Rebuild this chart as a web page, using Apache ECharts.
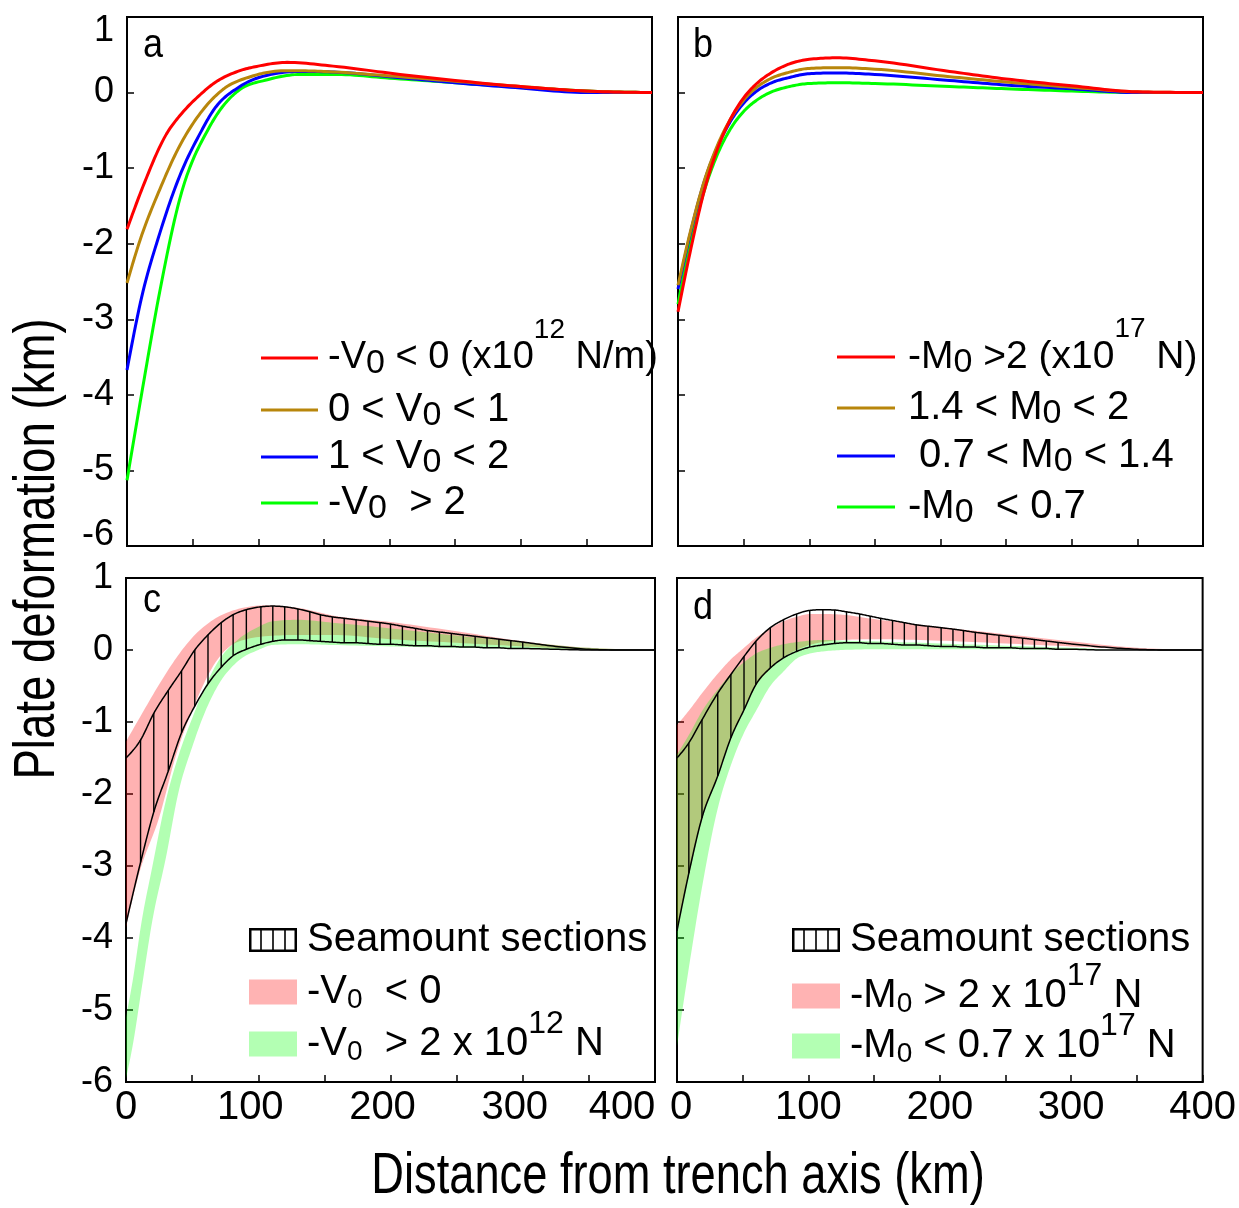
<!DOCTYPE html>
<html><head><meta charset="utf-8">
<script src="https://cdn.jsdelivr.net/npm/echarts@6/dist/echarts.min.js"></script>
<style>html,body{margin:0;padding:0;background:#fff}#chart{width:1239px;height:1208px}</style>
</head><body><div id="chart"></div>
<script>
// ---------------- DATA ----------------
const xTicks = [0, 100, 200, 300, 400];
const yTicks = [1, 0, -1, -2, -3, -4, -5, -6];
const panelLetters = ['a', 'b', 'c', 'd'];
const yTitle = 'Plate deformation (km)';
const xTitle = 'Distance from trench axis (km)';

// Panel a : [distance (km), deformation (km)]
const aRed   = [[0,-1.81],[12,-1.25],[30,-0.55],[42,-0.27],[55,-0.04],[66,0.12],[86,0.29],[100,0.35],[122,0.40],[157,0.35],[208,0.24],[250,0.16],[300,0.08],[350,0.02],[400,0]];
const aBrown = [[0,-2.52],[10,-1.95],[25,-1.28],[40,-0.71],[56,-0.27],[73,0.04],[94,0.21],[122,0.29],[150,0.28],[200,0.22],[250,0.15],[300,0.08],[350,0.02],[400,0]];
const aBlue  = [[0,-3.67],[11,-2.72],[25,-1.86],[40,-1.11],[56,-0.53],[66,-0.23],[86,0.08],[107,0.23],[132,0.28],[160,0.27],[200,0.21],[250,0.13],[300,0.06],[350,0.0],[400,0]];
const aGreen = [[0,-5.13],[12,-3.9],[24,-2.72],[40,-1.42],[63,-0.45],[86,0.04],[107,0.17],[132,0.24],[160,0.24],[200,0.19],[250,0.13],[300,0.07],[350,0.02],[400,0]];
const aLegend = ['-V{s|0} < 0 (x10{p|12} N/m)', '0 < V{s|0} < 1', '1 < V{s|0} < 2', '-V{s|0}  > 2'];

// Panel b
const bRed   = [[0,-2.9],[10,-2.05],[20,-1.3],[30,-0.75],[40,-0.35],[50,-0.07],[60,0.12],[70,0.25],[85,0.38],[100,0.44],[121,0.46],[150,0.42],[207,0.28],[250,0.18],[300,0.09],[350,0.01],[400,0]];
const bBrown = [[0,-2.55],[10,-1.8],[20,-1.17],[30,-0.7],[40,-0.35],[50,-0.1],[60,0.07],[70,0.18],[85,0.27],[100,0.32],[121,0.33],[150,0.31],[207,0.21],[250,0.14],[300,0.07],[350,0.01],[400,0]];
const bBlue  = [[0,-2.6],[10,-1.82],[20,-1.18],[30,-0.72],[40,-0.38],[50,-0.14],[60,0.02],[70,0.12],[85,0.2],[100,0.25],[121,0.26],[150,0.24],[207,0.16],[250,0.1],[300,0.05],[350,0.0],[400,0]];
const bGreen = [[0,-2.8],[10,-1.95],[20,-1.3],[30,-0.82],[40,-0.48],[50,-0.25],[60,-0.1],[70,0.0],[85,0.08],[100,0.12],[121,0.13],[150,0.12],[207,0.08],[250,0.05],[300,0.02],[350,0.0],[400,0]];
const bLegend = ['-M{s|0} >2 (x10{p|17} N)', '1.4 < M{s|0} < 2', ' 0.7 < M{s|0} < 1.4', '-M{s|0}  < 0.7'];

// Panel c : seamount section envelope (upper / lower black lines)
const cSecX  = [0,11,21,32,42,52,62,72,81,91,102,111,120,130,139,147,156,165,174,183,192,200,209,219,228,237,246,255,264,273,282,291,300,325,350,375,400];
const cSecHi = [-1.5,-1.25,-0.88,-0.56,-0.29,0.0,0.21,0.38,0.49,0.56,0.6,0.61,0.6,0.57,0.53,0.49,0.46,0.44,0.42,0.4,0.38,0.36,0.33,0.3,0.27,0.25,0.23,0.21,0.19,0.17,0.15,0.13,0.11,0.05,0.01,0,0];
const cSecLo = [-3.8,-2.95,-2.25,-1.68,-1.15,-0.78,-0.47,-0.24,-0.08,0.01,0.08,0.12,0.14,0.14,0.13,0.12,0.11,0.1,0.1,0.09,0.08,0.08,0.07,0.06,0.06,0.05,0.05,0.04,0.04,0.03,0.03,0.02,0.02,0.01,0,0,0];
const cPinkX  = [0,10,25,38,51,66,83,105,132,156,200,250,300,350,400];
const cPinkHi = [-1.27,-0.95,-0.48,-0.11,0.19,0.42,0.56,0.62,0.58,0.48,0.39,0.26,0.12,0.03,0];
const cPinkLo = [-3.85,-3.1,-2.33,-1.45,-0.8,-0.22,0.1,0.19,0.21,0.21,0.15,0.1,0.05,0.01,0];
const cGreenX  = [0,5,12,20,30,40,50,60,70,85,100,111,130,156,200,250,300,350,400];
const cGreenHi = [-5.1,-4.6,-3.75,-3.0,-2.1,-1.45,-0.95,-0.5,-0.15,0.15,0.32,0.4,0.42,0.38,0.3,0.2,0.11,0.03,0];
const cGreenLo = [-5.95,-5.5,-4.68,-3.75,-2.9,-1.95,-1.35,-0.85,-0.48,-0.15,0.0,0.07,0.08,0.07,0.05,0.03,0.02,0,0];
const cLegend = ['Seamount sections', '-V{s|0}  < 0', '-V{s|0}  > 2 x 10{p|12} N'];

// Panel d
const dSecX  = [0,9,19,31,41,51,60,71,81,91,101,111,120,129,139,147,155,164,173,182,191,201,210,218,227,236,245,254,263,272,281,290,300,325,350,375,400];
const dSecHi = [-1.5,-1.29,-0.97,-0.6,-0.34,-0.09,0.12,0.31,0.42,0.5,0.55,0.56,0.555,0.53,0.5,0.47,0.44,0.41,0.38,0.35,0.33,0.31,0.29,0.27,0.245,0.225,0.205,0.185,0.165,0.145,0.125,0.105,0.085,0.04,0.01,0,0];
const dSecLo = [-3.9,-3.1,-2.33,-1.75,-1.22,-0.83,-0.48,-0.25,-0.11,-0.02,0.04,0.07,0.09,0.1,0.1,0.09,0.09,0.08,0.07,0.07,0.06,0.05,0.05,0.04,0.04,0.03,0.03,0.03,0.02,0.02,0.02,0.01,0.01,0,0,0,0];
const dBandX   = [0,10,19,31,41,51,60,71,81,91,101,111,126,150,200,250,300,350,400];
const dPinkHi  = [-1.04,-0.82,-0.6,-0.33,-0.13,0.03,0.17,0.3,0.4,0.46,0.5,0.5,0.49,0.43,0.32,0.22,0.12,0.03,0];
const dPinkLo  = [-3.9,-3.05,-2.35,-1.75,-1.22,-0.83,-0.5,-0.26,-0.1,0.0,0.07,0.11,0.14,0.15,0.13,0.09,0.05,0.01,0];
const dGreenHi = [-1.45,-1.15,-0.85,-0.55,-0.33,-0.17,-0.05,0.03,0.08,0.11,0.13,0.14,0.13,0.12,0.09,0.06,0.03,0.0,0];
const dGreenLo = [-5.5,-4.3,-3.3,-2.2,-1.6,-1.15,-0.85,-0.5,-0.3,-0.12,-0.05,-0.02,0.0,0.01,0.01,0.01,0.0,0,0];
const dLegend = ['Seamount sections', '-M{s|0} > 2 x 10{p|17} N', '-M{s|0} < 0.7 x 10{p|17} N'];

// ---------------- STYLE / LAYOUT ----------------
const FONT = "'Arial Narrow','Liberation Sans',Arial,sans-serif";
const C = { red:'#ff0000', brown:'#b8860b', blue:'#0000ff', green:'#00ff00',
  pinkArea:'rgba(255,0,0,0.3)', greenArea:'rgba(0,255,0,0.3)', pinkIcon:'#ffb3b3', greenIcon:'#b3ffb3' };
const grids = [
  {left:127, top:17, width:525, height:529},
  {left:678, top:17, width:525, height:529},
  {left:126, top:578, width:529, height:504},
  {left:677, top:578, width:526, height:504}
];
const HATCH_ICON = 'path://M0,0H48V24H0Z M2.5,2.5V21.5H45.5V2.5Z M11.2,2.5H12.8V21.5H11.2Z M23.2,2.5H24.8V21.5H23.2Z M35.2,2.5H36.8V21.5H35.2Z';
const tok = (size, padding) => ({fontFamily:FONT, fontSize:size, color:'#000', padding});

const xLabelTok = [null, null, {0:'n', 100:'l', 200:'l', 300:'l', 400:'r'}, {0:'z', 100:'n', 200:'n', 300:'n', 400:'n'}];
function xAxis(gi, showLabels) {
  const map = xLabelTok[gi];
  return {
    type:'value', gridIndex:gi, min:0, max:400, interval:50,
    axisLine:{show:true, onZero:false, lineStyle:{color:'#000', width:2}},
    axisTick:{show:true, inside:true, length:7, lineStyle:{color:'#000', width:1.5}},
    splitLine:{show:false},
    axisLabel:{show:showLabels, fontFamily:FONT, fontSize:40, color:'#000', margin:6,
      formatter: v => (xTicks.includes(v) && map) ? '{' + map[v] + '|' + v + '}' : '',
      rich:{ n:tok(40,[0,0,0,0]), l:tok(40,[0,16,0,0]), r:tok(40,[0,66,0,0]), z:tok(40,[0,0,0,8]) }}
  };
}
function yAxis(gi, showLabels, clampEnds) {
  return {
    type:'value', gridIndex:gi, min:-6, max:1, interval:1,
    axisLine:{show:true, onZero:false, lineStyle:{color:'#000', width:2}},
    axisTick:{show:true, inside:true, length:7, lineStyle:{color:'#000', width:1.5}},
    splitLine:{show:false},
    axisLabel:{show:showLabels, fontFamily:FONT, fontSize:36, color:'#000', margin:13,
      formatter: v => {
        if (!yTicks.includes(v)) return '';
        if (clampEnds && v === yTicks[0]) return '{t|' + v + '}';
        if (clampEnds && v === yTicks[yTicks.length - 1]) return '{b|' + v + '}';
        return '{n|' + v + '}';
      },
      rich:{ n:tok(36,[0,0,0,0]), t:tok(36,[28,0,0,0]), b:tok(36,[0,0,22,0]) }}
  };
}
// monotone cubic (in x) sampling of pixel points: draws a smooth curve through the data points
function monotone(p, steps) {
  const n = p.length; if (n < 3) return p.slice();
  const h = [], m = [], t = new Array(n);
  for (let i = 0; i < n - 1; i++) { h[i] = p[i+1][0] - p[i][0]; m[i] = (p[i+1][1] - p[i][1]) / h[i]; }
  for (let i = 1; i < n - 1; i++) {
    const pp = (m[i-1] * h[i] + m[i] * h[i-1]) / (h[i-1] + h[i]);
    t[i] = (Math.sign(m[i-1]) + Math.sign(m[i])) * Math.min(Math.abs(m[i-1]), Math.abs(m[i]), 0.5 * Math.abs(pp));
  }
  t[0] = (3 * m[0] - t[1]) / 2; t[n-1] = (3 * m[n-2] - t[n-2]) / 2;
  const out = [];
  for (let i = 0; i < n - 1; i++) {
    for (let s = 0; s < steps; s++) {
      const u = s / steps, u2 = u * u, u3 = u2 * u;
      const y = (2*u3 - 3*u2 + 1) * p[i][1] + (u3 - 2*u2 + u) * h[i] * t[i] + (-2*u3 + 3*u2) * p[i+1][1] + (u3 - u2) * h[i] * t[i+1];
      out.push([p[i][0] + u * h[i], y]);
    }
  }
  out.push(p[n-1]);
  return out;
}
function curveSeries(name, gi, pts, color, width, z) {
  return { type:'custom', name, xAxisIndex:gi, yAxisIndex:gi, z:z || 3, silent:true,
    color, itemStyle:{color}, encode:{x:0, y:1}, data:pts,
    renderItem: (params, api) => {
      if (params.dataIndexInside !== 0) return;
      const p = [];
      for (let i = 0; i < params.dataInsideLength; i++) p.push(api.coord([api.value(0, i), api.value(1, i)]));
      return { type:'polyline', shape:{points:monotone(p, 12)},
        style:{stroke:color, lineWidth:width, fill:null, lineJoin:'round', lineCap:'butt'} };
    } };
}
function bandSeries(name, gi, xs, lo, hi, area, iconColor) {
  return { type:'custom', name, xAxisIndex:gi, yAxisIndex:gi, z:1, silent:true,
    color:iconColor, itemStyle:{color:iconColor},
    encode:{x:0, y:[1, 2]},
    data: xs.map((x, i) => [x, lo[i], hi[i]]),
    renderItem: (params, api) => {
      if (params.dataIndexInside !== 0) return;
      const n = params.dataInsideLength, up = [], dn = [];
      for (let i = 0; i < n; i++) {
        const x = api.value(0, i);
        up.push(api.coord([x, api.value(2, i)]));
        dn.push(api.coord([x, api.value(1, i)]));
      }
      const pts = monotone(up, 10).concat(monotone(dn, 10).reverse());
      return { type:'polygon', shape:{points:pts}, style:{fill:area} };
    } };
}
function envelopeSeries(name, gi, xs, lo, hi, maxHatch) {
  return [
    curveSeries(name + '_up', gi, xs.map((x, i) => [x, hi[i]]), '#000', 1.5, 4),
    curveSeries(name + '_lo', gi, xs.map((x, i) => [x, lo[i]]), '#000', 1.5, 4),
    { type:'custom', name, xAxisIndex:gi, yAxisIndex:gi, z:4, silent:true, color:'#000',
      itemStyle:{color:'#000'},
      encode:{x:0, y:[1, 2]},
      data: xs.map((x, i) => [x, lo[i], hi[i]]).filter(d => d[0] > 5 && d[0] <= maxHatch),
      renderItem: (params, api) => {
        const p1 = api.coord([api.value(0), api.value(1)]);
        const p2 = api.coord([api.value(0), api.value(2)]);
        return { type:'line', shape:{x1:p1[0], y1:p1[1], x2:p2[0], y2:p2[1]},
          style:{stroke:'#000', lineWidth:1.4} };
      } }
  ];
}

const series = [
  curveSeries('aGreen', 0, aGreen, C.green, 3), curveSeries('aBlue', 0, aBlue, C.blue, 3),
  curveSeries('aBrown', 0, aBrown, C.brown, 3), curveSeries('aRed', 0, aRed, C.red, 3),
  curveSeries('bGreen', 1, bGreen, C.green, 3), curveSeries('bBlue', 1, bBlue, C.blue, 3),
  curveSeries('bBrown', 1, bBrown, C.brown, 3), curveSeries('bRed', 1, bRed, C.red, 3),
  bandSeries('cPink', 2, cPinkX, cPinkLo, cPinkHi, C.pinkArea, C.pinkIcon),
  bandSeries('cGreen', 2, cGreenX, cGreenLo, cGreenHi, C.greenArea, C.greenIcon),
  ...envelopeSeries('cSec', 2, cSecX, cSecLo, cSecHi, 300),
  bandSeries('dPink', 3, dBandX, dPinkLo, dPinkHi, C.pinkArea, C.pinkIcon),
  bandSeries('dGreen', 3, dBandX, dGreenLo, dGreenHi, C.greenArea, C.greenIcon),
  ...envelopeSeries('dSec', 3, dSecX, dSecLo, dSecHi, 290)
];

// legend rows: one legend component per row; fixed line height so the row centre = top + LH/2
const LH = 100;
const richAB = { s:{...tok(34,[12,0,0,0]), lineHeight:LH}, p:{...tok(28,[0,0,56,0]), lineHeight:LH} };
const richCD = { s:{...tok(28,[16,0,0,0]), lineHeight:LH}, p:{...tok(32,[0,0,40,0]), lineHeight:LH} };
function legendRow(name, text, left, centerY, icon, color, w, h, fontSize, rich, gap) {
  return {
    data:[{name, icon, itemStyle:{color, borderWidth:0}}],
    left, top:centerY - LH / 2, orient:'horizontal', padding:0, itemWidth:w, itemHeight:h,
    selectedMode:false, symbolKeepAspect:false,
    formatter: () => text,
    textStyle:{fontFamily:FONT, fontSize, color:'#000', lineHeight:LH, padding:[0,0,0,gap], rich}
  };
}
const legends = [];
['aRed','aBrown','aBlue','aGreen'].forEach((n, i) => legends.push(
  legendRow(n, aLegend[i], 261, [358,410,457,503][i], 'rect', [C.red,C.brown,C.blue,C.green][i], 57, 3, i === 0 ? 38 : 40, richAB, 5)));
['bRed','bBrown','bBlue','bGreen'].forEach((n, i) => legends.push(
  legendRow(n, bLegend[i], 837, [357,408,456,507][i], 'rect', [C.red,C.brown,C.blue,C.green][i], 58, 3, i === 0 ? 39 : 40, richAB, 8)));
legends.push(legendRow('cSec', cLegend[0], 249, 940, HATCH_ICON, '#000', 48, 24, 40, richCD, 5));
legends.push(legendRow('cPink', cLegend[1], 249, 992, 'rect', C.pinkIcon, 48, 25, 40, richCD, 5));
legends.push(legendRow('cGreen', cLegend[2], 249, 1044, 'rect', C.greenIcon, 48, 25, 40, richCD, 5));
legends.push(legendRow('dSec', dLegend[0], 792, 940, HATCH_ICON, '#000', 48, 24, 40, richCD, 5));
legends.push(legendRow('dPink', dLegend[1], 792, 996, 'rect', C.pinkIcon, 48, 25, 40, richCD, 5));
legends.push(legendRow('dGreen', dLegend[2], 792, 1046, 'rect', C.greenIcon, 48, 25, 40, richCD, 5));

const letterPos = [[143,46],[693,46],[143,601],[693,608]];
const textStyle = (text, size, align) => ({text, fontFamily:FONT, fontSize:size, fill:'#000',
  align, verticalAlign:'middle', textAlign:align, textVerticalAlign:'middle'});
const graphic = [
  { type:'text', x:38, y:549, rotation:Math.PI / 2, scaleX:0.8, style:textStyle(yTitle, 57, 'center') },
  { type:'text', x:678, y:1177, scaleX:0.78, style:textStyle(xTitle, 58, 'center') },
  ...panelLetters.map((t, i) => ({ type:'text', x:letterPos[i][0], y:letterPos[i][1], scaleX:0.9,
    style:textStyle(t, 40, 'left') }))
];

const chart = echarts.init(document.getElementById('chart'), null, {renderer:'canvas'});
chart.setOption({
  animation:false,
  backgroundColor:'#fff',
  grid: grids.map(g => ({...g, show:true, borderColor:'#000', borderWidth:2, backgroundColor:'transparent'})),
  xAxis:[xAxis(0,false), xAxis(1,false), xAxis(2,true), xAxis(3,true)],
  yAxis:[yAxis(0,true,true), yAxis(1,false,false), yAxis(2,true,false), yAxis(3,false,false)],
  legend: legends,
  graphic,
  series
});
</script>
</body></html>
